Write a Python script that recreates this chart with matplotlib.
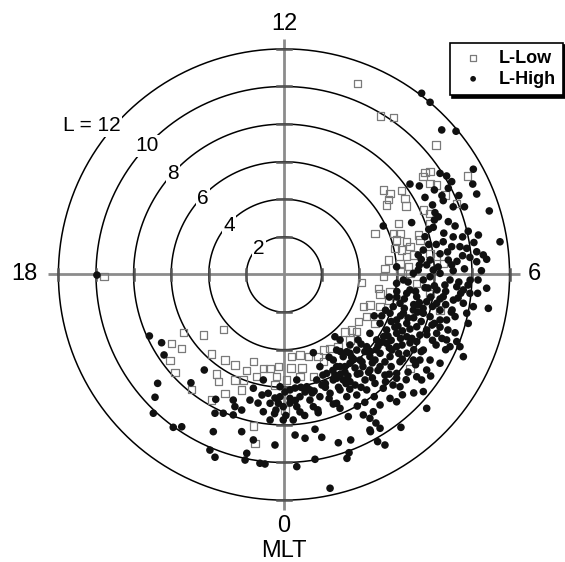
import matplotlib
matplotlib.use("Agg")
import matplotlib.pyplot as plt
import numpy as np

plt.rcParams['font.family'] = ['Liberation Sans', 'DejaVu Sans']

# ---------------- data (positions in L units: x toward 06 MLT, y toward 12 MLT) ----------------
low_x = [3.90, 5.14, 5.81, 8.09, 7.50, 7.77, 9.77, 7.39, 7.77, 8.12,
         5.28, 5.64, 6.26, 5.55, 6.44, 5.46, 6.49, 8.56, 9.19, 7.41,
         7.77, 6.08, 4.84, 5.81, 6.17, 7.14, 7.77, 5.99, 6.53, 5.90,
         6.26, 6.70, 5.55, 6.53, 6.88, 7.23, 7.77, 6.17, 5.37, 6.61,
         8.12, 8.47, 4.13, 5.02, 5.11, 5.64, 5.55, 6.17, 6.70, 5.28,
         7.06, 7.77, 4.22, 4.57, 5.11, 3.95, 4.40, 4.84, 3.60, 3.87,
         8.30, 6.70, 3.51, 3.24, 2.45, 2.87, 2.09, 0.41, 0.85, 1.29,
         1.56, 0.85, 0.14, -0.39, -0.30, -0.74, -1.10, -1.45, -1.63, -1.98,
         -2.16, -2.61, -2.61, -3.14, -3.23, -3.14, -2.25, -0.48, 0.37, 0.96,
         1.81, -5.36, -4.29, -5.97, -5.44, -6.06, -5.80, -3.85, -3.58, -3.49,
         -4.91, -3.85, -1.63, -1.54, 0.05, -9.57, 2.13]
low_y = [10.17, 8.43, 8.36, 6.89, 5.42, 5.47, 5.24, 5.20, 4.85, 4.76,
         4.49, 4.32, 4.46, 4.00, 4.05, 3.70, 3.64, 4.23, 3.79, 3.43,
         3.26, 2.72, 2.19, 2.19, 2.19, 2.10, 2.72, 1.84, 1.74, 1.39,
         1.30, 1.48, 0.77, 0.95, 1.04, 1.84, 1.13, 0.60, 0.33, 0.41,
         0.95, 0.60, -0.44, -0.73, -1.04, -0.91, -1.36, 0.15, 0.06, -0.12,
         -0.47, -1.00, -1.71, -1.62, -1.71, -2.51, -2.24, -2.60, -2.95, -3.04,
         -1.89, -4.99, -3.48, -3.06, -3.93, -3.86, -4.64, -4.37, -4.28, -4.37,
         -5.44, -5.44, -5.61, -5.44, -4.90, -4.99, -4.99, -5.44, -4.64, -5.12,
         -5.61, -5.61, -4.81, -4.55, -2.91, -6.32, -6.14, -5.88, -4.97, -4.97,
         -4.37, -3.10, -3.22, -3.66, -3.93, -4.59, -5.22, -4.23, -5.29, -5.70,
         -6.11, -6.68, -8.06, -8.98, -7.21, -0.12, -4.02]

high_x = [7.32, 7.77, 8.39, 9.15, 10.07, 8.30, 8.65, 6.70, 7.20, 8.92,
          8.74, 10.04, 10.25, 8.47, 10.92, 8.03, 8.21, 6.79, 8.74, 9.10,
          7.94, 5.28, 10.34, 11.49, 8.47, 8.92, 9.36, 9.72, 10.25, 10.60,
          10.78, 7.50, 7.41, 7.14, 7.77, 8.74, 8.92, 7.94, 7.14, 5.99,
          10.25, 9.89, 7.59, 6.88, 8.30,
          5.99, 6.35, 7.41, 7.77, 8.83, 9.19, 9.54, 9.89, 10.78, 10.87,
          10.07, 9.54, 9.01, 8.47, 8.12, 7.59, 7.06, 6.53, 6.17, 6.88,
          7.41, 7.77, 8.65, 9.10, 9.72, 5.64, 5.99, 6.53, 7.06, 7.59,
          8.12, 8.65, 9.19, 8.83, 9.36, 9.54,
          5.11, 5.46, 5.99, 6.53, 7.06, 7.41, 7.77, 8.30, 7.59,
          4.57, 4.93, 5.46, 5.99, 6.53, 6.88,
          4.40, 3.87, 3.51, 3.15, 2.80, 2.62, 2.98, 3.51, 4.04, 4.57, 5.11, 5.64, 6.17,
          5.11, 4.57, 5.99, 7.06, 4.04, 6.70, 5.81, 6.35,
          1.56, 2.71, 2.98, 3.34, 2.80, 3.24, 1.91, 2.27, 1.74, 2.62, 3.15,
          1.21, 0.68, 0.32, -0.21, -1.10, -1.63, -0.84, -0.21, 0.32, 0.85,
          1.38, 1.91, 2.45, 2.98, 3.34,
          -2.70, -1.81, -0.74, -0.04, 0.68, 1.56, 2.80,
          -7.16, -6.51, -6.38, -4.24, -6.72, -6.86, -4.95, -3.63,
          -3.67, -3.23, -2.70, -2.25, -6.95, -5.89, -5.44,
          -3.76, -2.61, -1.63, -0.48, -1.10, -0.30, -0.04, 0.49, 0.59, 1.12,
          1.65, 2.01, 1.82, 2.62, 2.89,
          -3.94, -3.67, -1.98, -2.07, -1.28, -1.01, 0.68, 1.65, 2.45, -0.74, -2.25,
          3.55, 3.35, 3.46, 4.60, 4.89, 4.98, 5.37, 6.22,
          2.80, 3.51, 3.87, 4.40, 4.84, 5.28, 5.99, 6.17,
          7.32, 7.41, 7.59, 5.64, 5.99, 5.11, 4.75, 4.22, 4.57,
          4.57, 5.11, 2.98, 3.42, -9.95,
          1.38, 2.02, 2.71, 3.24, 3.78, 4.15, 4.84, 5.37, 5.74, 6.28,
          6.70, 7.23, 7.87, 8.30, 8.94, 9.26, 9.79, 10.32, 8.56, 8.14,
          7.66, 7.13, 6.60, 6.06, 5.53, 5.00, 4.47, 3.94, 3.51, 2.07,
          1.12, 0.59, 0.05, -0.48, -1.17, -1.38, 8.72, 8.09, 7.23, 6.60,
          5.80, 5.37, 4.31, 3.78, 0.32, -0.43, 0.85,
          0.90, 1.60, 2.20, 2.60, 3.00, 3.40, 3.70, 4.20, 4.70, 4.30,
          4.90, 5.30, 5.70, 5.90, 6.30, 6.70, 6.90, 7.30, 7.20, 7.90,
          8.30, 8.00, 8.60, 9.30, 9.00, 9.60, 9.40, 8.90, 8.30, 7.90,
          7.30, 6.90, 6.30, 5.70, 5.40, 4.70, 4.10, 3.50, 2.40, 1.80,
          1.10, 0.10, -0.50, 6.50, 6.90, 6.30, 4.80, 4.30, 3.90, 7.00,
          7.80, 8.60, 9.10, 9.80, 10.30, 9.90, 10.50, 6.40, 5.40, 4.80,
          6.00, 6.60, 7.20, 7.50, 8.20, 8.70, 9.50, 8.10, 7.70, 9.60,
          9.30, 8.00,
          2.40, 3.00, 3.60, 4.10, 4.60, 5.20, 5.60, 3.30, 3.90, 4.50,
          5.00, 5.60, 2.20, 2.90, 1.50, 0.60, 6.20, 6.80, 6.10,
          5.20, 5.70, 6.20, 6.40, 6.90, 7.40, 7.80, 8.30, 8.60, 7.10,
          6.00, 5.60, 7.00, 8.00, 7.60, 8.40,
          7.70, 8.30, 8.50, 9.00, 9.50, 9.20, 7.30, 8.00, 9.80, 10.10,
          7.50, 8.40, 9.00, 7.90]
high_y = [9.64, 9.16, 7.69, 7.62, 5.60, 5.38, 5.24, 4.81, 4.71, 4.94,
          4.59, 4.81, 4.28, 3.93, 3.38, 3.29, 3.07, 2.76, 2.81, 2.58,
          2.51, 2.58, 2.10, 1.74, 1.74, 1.48, 1.48, 1.39, 1.21, 1.04,
          0.81, 2.01, 1.30, 1.04, 0.77, 0.77, 0.51, 0.24, 0.24, 0.41,
          0.68, 0.91, 0.51, 0.06, 0.06,
          -0.47, -0.29, -0.29, -0.12, -0.29, -0.65, -0.82, -1.00, -0.73, -1.80,
          -1.71, -1.53, -1.36, -1.18, -1.53, -1.45, -1.18, -1.00, -1.53, -1.89,
          -2.06, -2.24, -2.42, -2.24, -2.06, -2.06, -2.42, -2.60, -2.78, -2.95,
          -3.13, -3.48, -3.57, -3.84, -3.84, -4.37,
          -2.60, -2.95, -3.13, -3.31, -3.57, -4.02, -4.55, -4.72, -5.08,
          -3.13, -3.48, -3.66, -3.84, -4.19, -4.55,
          -3.84, -4.02, -4.19, -4.37, -4.02, -4.55, -4.90, -4.72, -4.55, -4.37, -4.19, -4.37, -4.64,
          -4.90, -5.08, -5.26, -5.44, -5.26, -0.82, -1.71, -2.06,
          -4.16, -3.31, -3.48, -4.11, -4.90, -4.90, -4.90, -5.26, -5.61, -5.61, -5.61,
          -5.97, -5.61, -6.14, -5.97, -5.61, -6.05, -6.32, -6.50, -6.59, -6.50,
          -6.68, -6.50, -6.32, -6.14, -6.50,
          -6.68, -6.68, -6.85, -7.03, -7.03, -7.03, -6.85,
          -3.27, -3.63, -4.28, -5.08, -5.79, -6.53, -5.76, -6.64,
          -7.38, -7.38, -7.47, -7.21, -7.38, -8.13, -8.10,
          -8.36, -7.03, -8.80, -9.07, -7.30, -6.85, -7.74, -7.74, -8.54, -8.71,
          -8.23, -8.66, -7.35, -6.89, -8.95,
          -9.34, -9.72, -9.51, -9.87, -10.04, -10.08, -10.22, -9.83, -11.37, -7.74, -8.36,
          -8.80, -9.78, -9.48, -8.36, -7.90, -8.89, -9.07, -8.13,
          -5.52, -5.70, -6.41, -6.14, -5.79, -6.05, -5.52, -5.97,
          -5.61, -6.23, -7.12, -6.59, -6.77, -6.94, -7.30, -7.47, -7.65,
          -8.27, -8.18, -7.12, -7.56, -0.03,
          -6.14, -5.88, -5.35, -5.19, -4.97, -4.65, -4.55, -4.65, -4.02, -3.75,
          -3.64, -3.22, -2.69, -2.42, -1.89, -1.25, -0.56, -0.29, -0.56, -0.82,
          -0.72, -1.62, -2.31, -2.74, -3.27, -3.80, -4.12, -3.48, -3.75, -5.35,
          -6.25, -6.04, -6.25, -6.57, -6.41, -6.84, -2.95, -3.75, -4.55, -5.19,
          -5.88, -5.35, -5.61, -5.88, -6.84, -7.21, -7.31,
          -6.00, -6.20, -5.80, -5.10, -5.30, -5.40, -4.50, -4.90, -4.70, -4.10,
          -4.00, -3.30, -3.50, -2.80, -3.00, -2.90, -2.30, -2.50, -1.50, -1.70,
          -1.30, -0.60, -0.90, -0.40, 0.20, 0.30, -1.00, -2.00, -2.80, -3.50,
          -4.10, -4.00, -4.50, -4.90, -5.70, -5.50, -6.00, -6.10, -6.60, -7.20,
          -7.50, -7.50, -7.40, -5.60, -6.30, -6.40, -6.50, -6.80, -7.00, -4.80,
          -5.40, -4.00, -3.10, -2.60, -1.00, -0.30, 0.20, -1.30, -1.90, -2.20,
          -0.90, -0.40, 0.50, -0.70, 0.40, 1.20, 2.00, 1.60, 2.40, 3.60,
          4.20, 4.50,
          -4.40, -4.10, -4.40, -3.70, -4.10, -3.60, -3.90, -5.80, -5.30, -5.20,
          -5.10, -5.30, -6.00, -6.00, -6.30, -6.70, -3.40, -3.40, -4.20,
          -2.20, -2.50, -2.20, -1.80, -1.60, -1.80, -1.20, -1.90, -1.60, -2.00,
          -1.20, -1.20, -0.90, -2.60, -3.20, -3.40,
          1.60, 1.10, 2.20, 2.00, 1.00, 0.70, 0.80, 2.90, 2.30, 1.70,
          4.10, 4.20, 3.60, 3.70]

rings = [2, 4, 6, 8, 10, 12]
ring_labels = ['2', '4', '6', '8', '10', 'L = 12']
ring_label_x = [-1.33, -2.93, -4.31, -5.90, -7.26, -10.21]
ring_label_y = [1.38, 2.63, 4.02, 5.35, 6.84, 7.90]

mlt_labels = ['12', '6', '0', '18']
mlt_x = [0.0, 13.32, 0.0, -13.8]
mlt_y = [13.35, 0.0, -13.40, 0.0]
axis_title = 'MLT'
series_names = ['L-Low', 'L-High']

# ---------------- figure ----------------
fig = plt.figure(figsize=(5.65, 5.62), dpi=100)
ax = fig.add_axes([0, 0, 1, 1])
ax.set_xlim(-15.106, 14.947)
ax.set_ylim(-15.293, 14.601)
ax.axis('off')

# cross axes (gray)
ext = 12.55
ax.plot([-ext, ext], [0, 0], color='#8c8c8c', lw=2.0, zorder=1, solid_capstyle='butt')
ax.plot([0, 0], [-ext, ext], color='#8c8c8c', lw=2.0, zorder=1, solid_capstyle='butt')

# rings
th = np.linspace(0, 2 * np.pi, 721)
for r in rings:
    ax.plot(r * np.cos(th), r * np.sin(th), color='black', lw=1.1, zorder=2)
    for s in (-1, 1):
        ax.plot([-0.35, 0.35], [s * r, s * r], color='#555555', lw=1.8, zorder=2)
        ax.plot([s * r, s * r], [-0.3, 0.3], color='#555555', lw=1.8, zorder=2)

# ring labels
for lx, ly, lab in zip(ring_label_x, ring_label_y, ring_labels):
    ax.text(lx, ly, lab, ha='center', va='center', fontsize=15, zorder=6,
            bbox=dict(facecolor='white', edgecolor='none', pad=1.0))

# MLT labels
for lx, ly, lab in zip(mlt_x, mlt_y, mlt_labels):
    ax.text(lx, ly, lab, ha='center', va='center', fontsize=17, zorder=6)
ax.text(0, -14.7, axis_title, ha='center', va='center', fontsize=17, zorder=6)

# data
sq = ax.scatter(low_x, low_y, s=28, marker='s', facecolors='none',
                edgecolors='#7a7a7a', linewidths=0.9, zorder=4, label=series_names[0])
dt = ax.scatter(high_x, high_y, s=30, marker='o', c='#111111',
                edgecolors='none', zorder=5, label=series_names[1])

leg = fig.legend(handles=[sq, dt], loc='upper right', bbox_to_anchor=(0.996, 0.924),
                 frameon=True, fancybox=False, shadow={'color': 'black', 'alpha': 1.0},
                 prop={'family': 'Liberation Sans', 'weight': 'bold', 'size': 13},
                 handletextpad=0.5, borderpad=0.4, labelspacing=0.2,
                 handlelength=1.8, markerscale=0.75, borderaxespad=0)
leg.get_frame().set_edgecolor('black')
leg.get_frame().set_linewidth(1.2)

fig.savefig('out.png', dpi=100)
